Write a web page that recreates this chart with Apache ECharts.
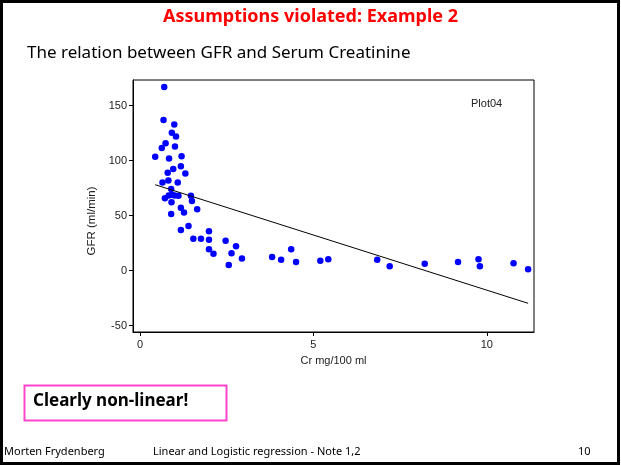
<!DOCTYPE html>
<html>
<head>
<meta charset="utf-8">
<script src="https://cdn.jsdelivr.net/npm/echarts@6/dist/echarts.min.js"></script>
<style>
  html, body { margin: 0; padding: 0; background: #fff; }
  #chart { width: 621px; height: 466px; }
</style>
</head>
<body>
<div id="chart"></div>
<script>
// Serum creatinine (mg/100 ml) vs GFR (ml/min)
const crValues = [
  0.70, 0.68, 0.99, 0.92, 1.04, 0.74, 0.63, 1.01, 0.44, 0.84,
  1.20, 1.18, 0.96, 0.80, 1.31, 0.82, 0.65, 1.09, 0.90, 0.72,
  0.83, 0.92, 1.00, 1.11, 1.47, 0.91, 1.50, 1.18, 1.27, 1.65,
  0.90, 1.40, 1.18, 1.99, 1.54, 1.76, 1.99, 2.47, 2.77, 1.99,
  2.64, 2.12, 2.94, 2.56, 3.81, 4.07, 4.36, 4.50, 5.20, 5.43,
  6.84, 7.20, 8.21, 9.17, 9.76, 9.80, 10.77, 11.19
]
const gfrValues = [
  167, 137, 133, 125.5, 122, 116, 111.5, 113, 103.6, 102,
  104, 95, 92.5, 89, 88.5, 82, 80.3, 80.3, 74.3, 66,
  68.5, 69, 68.5, 68.2, 68.2, 62.2, 63.4, 57.3, 53, 56,
  51.5, 40.6, 37, 36, 29, 29, 28.2, 27.3, 22.2, 19.5,
  16, 15.5, 11.2, 5.2, 12.5, 10, 19.5, 7.9, 9.1, 10.4,
  10, 4, 6.4, 7.9, 10.4, 4, 6.7, 1.3
]
// fitted straight line, end points
const fitX = [0.44, 11.19]
const fitY = [78.2, -29.6]

const xTicks = [0, 5, 10]
const yTicks = [-50, 0, 50, 100, 150]

const chart = echarts.init(document.getElementById('chart'))
const axisFont = 'Liberation Sans, Arial, sans-serif'
const slideFont = '"Comic Sans MS", "Noto Sans", sans-serif'

const option = {
  animation: false,
  grid: {
    left: 133,
    right: 87,
    top: 80,
    bottom: 134,
    show: true,
    borderColor: '#000',
    borderWidth: 1
  },
  xAxis: {
    type: 'value',
    min: -0.2,
    max: 11.36,
    name: 'Cr mg/100 ml',
    nameLocation: 'middle',
    nameGap: 23,
    nameTextStyle: { color: '#222', fontSize: 11, fontFamily: axisFont },
    axisLine: { onZero: false, lineStyle: { color: '#000', width: 1 } },
    axisTick: { customValues: xTicks, length: 4, lineStyle: { color: '#000' } },
    axisLabel: { customValues: xTicks, color: '#222', fontSize: 11, fontFamily: axisFont, margin: 7 },
    splitLine: { show: false }
  },
  yAxis: {
    type: 'value',
    min: -55.7,
    max: 173.4,
    name: 'GFR (ml/min)',
    nameLocation: 'middle',
    nameGap: 31,
    nameTextStyle: { color: '#222', fontSize: 11.5, fontFamily: axisFont, padding: [0, 30, 0, 0] },
    axisLine: { onZero: false, lineStyle: { color: '#000', width: 1 } },
    axisTick: { customValues: yTicks, length: 4, lineStyle: { color: '#000' } },
    axisLabel: { customValues: yTicks, color: '#222', fontSize: 11, fontFamily: axisFont, margin: 6 },
    splitLine: { show: false }
  },
  series: [
    {
      type: 'scatter',
      symbol: 'circle',
      symbolSize: 6.5,
      itemStyle: { color: '#0000ff', opacity: 1 },
      data: crValues.map((x, i) => [x, gfrValues[i]])
    },
    {
      type: 'line',
      symbol: 'none',
      lineStyle: { color: '#000', width: 1 },
      data: fitX.map((x, i) => [x, fitY[i]])
    }
  ],
  graphic: [
    // slide frame
    { type: 'rect', shape: { x: 1.5, y: 1.5, width: 617, height: 462 }, style: { fill: 'none', stroke: '#000', lineWidth: 3 }, silent: true },
    { type: 'text', left: 'center', top: 8, style: { text: 'Assumptions violated: Example 2', fill: '#ff0000', font: 'bold 18px ' + slideFont } },
    { type: 'text', left: 27, top: 45, style: { text: 'The relation between GFR and Serum Creatinine', fill: '#000', font: '17px ' + slideFont } },
    { type: 'text', left: 471, top: 98, style: { text: 'Plot04', fill: '#222', font: '11px ' + axisFont } },
    // callout box
    { type: 'rect', shape: { x: 24.5, y: 385.5, width: 202, height: 35 }, style: { fill: '#fff', stroke: '#ff44cc', lineWidth: 2 } },
    { type: 'text', left: 33, top: 393, style: { text: 'Clearly non-linear!', fill: '#000', font: 'bold 17px ' + slideFont } },
    // footer
    { type: 'text', left: 4, top: 446, style: { text: 'Morten Frydenberg', fill: '#000', font: '11px ' + slideFont } },
    { type: 'text', left: 153, top: 446, style: { text: 'Linear and Logistic regression - Note 1,2', fill: '#000', font: '11px ' + slideFont } },
    { type: 'text', left: 578, top: 446, style: { text: '10', fill: '#000', font: '11px ' + slideFont } }
  ]
}
chart.setOption(option)
</script>
</body>
</html>
